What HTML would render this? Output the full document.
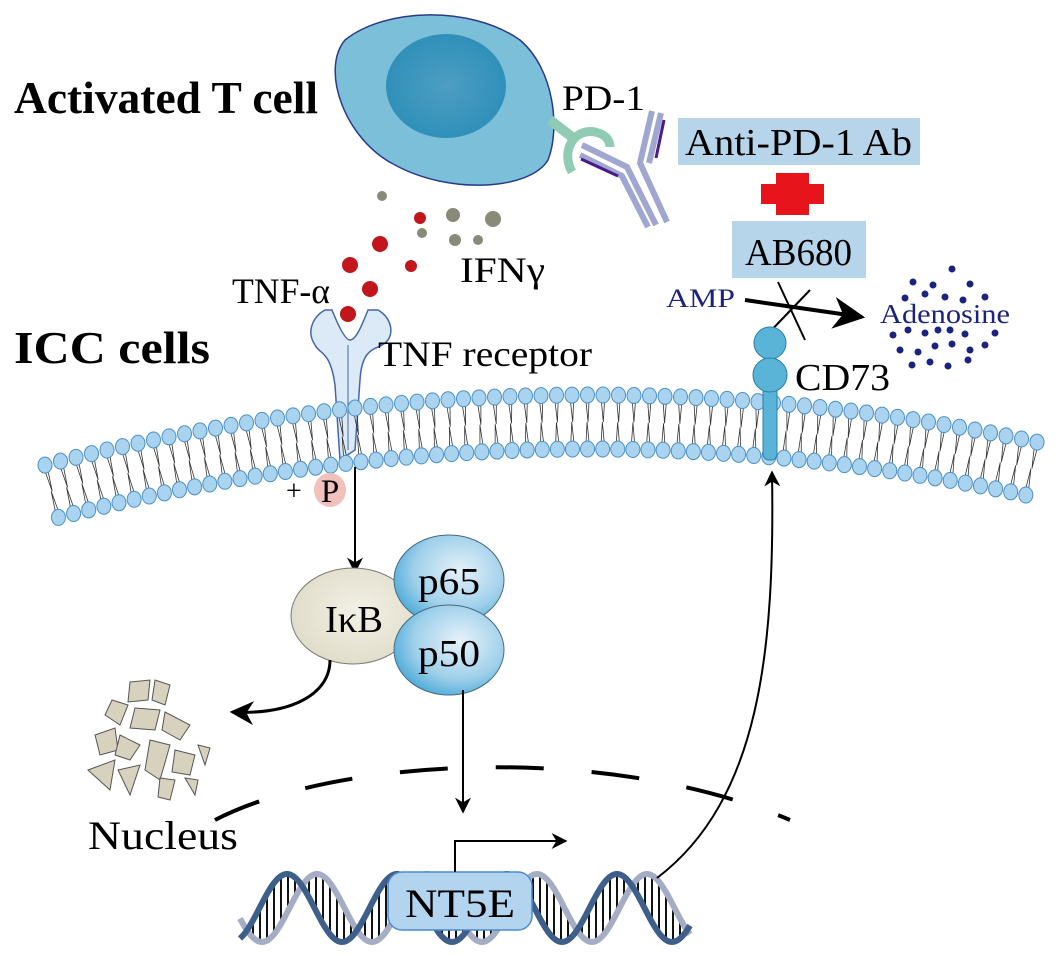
<!DOCTYPE html>
<html><head><meta charset="utf-8"><style>
html,body{margin:0;padding:0;background:#fff;}
svg{display:block;}
text{font-family:"Liberation Serif","Times New Roman",serif;}
</style></head><body>
<svg width="1063" height="956" viewBox="0 0 1063 956" xmlns="http://www.w3.org/2000/svg">
<defs>
<radialGradient id="bl" cx="0.6" cy="0.4" r="0.7"><stop offset="0" stop-color="#e6f2fa"/><stop offset="0.6" stop-color="#9fd0ea"/><stop offset="1" stop-color="#3ba3d4"/></radialGradient>
<radialGradient id="bg" cx="0.55" cy="0.45" r="0.7"><stop offset="0" stop-color="#f3f1e6"/><stop offset="1" stop-color="#dcd8c4"/></radialGradient>
<radialGradient id="nuc" cx="0.5" cy="0.5" r="0.6"><stop offset="0" stop-color="#4d9ec2"/><stop offset="1" stop-color="#2a8db8"/></radialGradient>
<marker id="ah" viewBox="0 0 10 10" refX="9" refY="5" markerWidth="8" markerHeight="8" orient="auto"><path d="M0,0 L10,5 L0,10 L3,5z" fill="#000"/></marker>
</defs>

<text x="14" y="113" font-size="46" font-weight="bold" textLength="304" lengthAdjust="spacingAndGlyphs">Activated T cell</text>
<text x="14" y="363" font-size="46" font-weight="bold" textLength="196" lengthAdjust="spacingAndGlyphs">ICC cells</text>

<path d="M345,40 C385,8 470,5 520,40 C555,70 560,130 548,160 C530,190 450,195 395,165 C345,140 320,70 345,40z" fill="#7bbfd8" stroke="#2a3a8a" stroke-width="1.5"/>
<ellipse cx="446" cy="86" rx="60" ry="52" fill="url(#nuc)"/>

<text x="562" y="110" font-size="36" textLength="83" lengthAdjust="spacingAndGlyphs">PD-1</text>
<path d="M550,120 L572,137" stroke="#8fccb3" stroke-width="10"/>
<path d="M572,172 C560,150 575,128 595,132 C605,134 610,140 610,147" stroke="#8fccb3" stroke-width="9" fill="none"/>
<g stroke="#9fa6d0" stroke-width="6" fill="none">
<path d="M582,145 L627,167 L656,225"/>
<path d="M580,155 L622,176 L648,227"/>
<path d="M652,111 L640,163 L667,222"/>
<path d="M661,113 L649,163"/>
</g>
<path d="M664,120 L656,158" stroke="#4b1a8a" stroke-width="3"/>
<path d="M581,159 L618,176" stroke="#4b1a8a" stroke-width="3"/>

<rect x="678" y="118" width="242" height="47" fill="#b7d5ea"/>
<text x="685" y="155" font-size="38" textLength="227" lengthAdjust="spacingAndGlyphs">Anti-PD-1 Ab</text>
<rect x="776" y="173" width="33" height="42" fill="#e8141c"/>
<rect x="761" y="184" width="63" height="20" fill="#e8141c"/>
<rect x="732" y="221" width="134" height="57" fill="#b7d5ea"/>
<text x="745" y="265" font-size="38" textLength="107" lengthAdjust="spacingAndGlyphs">AB680</text>

<text x="666" y="307" font-size="26" fill="#1a237e" textLength="69" lengthAdjust="spacingAndGlyphs">AMP</text>
<line x1="745" y1="300" x2="862" y2="317" stroke="#000" stroke-width="4" marker-end="url(#ah)"/>
<line x1="778" y1="282" x2="805" y2="340" stroke="#000" stroke-width="2"/>
<line x1="810" y1="290" x2="762" y2="340" stroke="#000" stroke-width="2"/>
<text x="880" y="323" font-size="27" fill="#1a237e" textLength="130" lengthAdjust="spacingAndGlyphs">Adenosine</text>
<g fill="#1a237e">
<circle cx="952" cy="269" r="3.5"/><circle cx="913" cy="282" r="3.5"/><circle cx="933" cy="285" r="3.5"/><circle cx="970" cy="284" r="3.5"/>
<circle cx="905" cy="298" r="3.5"/><circle cx="925" cy="294" r="3.5"/><circle cx="945" cy="297" r="3.5"/><circle cx="963" cy="300" r="3.5"/><circle cx="985" cy="297" r="3.5"/>
<circle cx="893" cy="335" r="3.5"/><circle cx="908" cy="330" r="3.5"/><circle cx="925" cy="333" r="3.5"/><circle cx="938" cy="330" r="3.5"/><circle cx="950" cy="330" r="3.5"/><circle cx="965" cy="334" r="3.5"/><circle cx="995" cy="333" r="3.5"/>
<circle cx="900" cy="350" r="3.5"/><circle cx="918" cy="352" r="3.5"/><circle cx="935" cy="346" r="3.5"/><circle cx="952" cy="344" r="3.5"/><circle cx="970" cy="350" r="3.5"/><circle cx="985" cy="345" r="3.5"/>
<circle cx="912" cy="365" r="3.5"/><circle cx="930" cy="362" r="3.5"/><circle cx="948" cy="366" r="3.5"/><circle cx="968" cy="360" r="3.5"/>
</g>

<g fill="#c0161c"><circle cx="420" cy="218" r="6"/><circle cx="380" cy="244" r="8"/><circle cx="350" cy="265" r="8"/><circle cx="411" cy="266" r="6"/><circle cx="370" cy="289" r="8"/><circle cx="348" cy="314" r="8"/></g>
<g fill="#8a8a78"><circle cx="382" cy="196" r="5"/><circle cx="453" cy="215" r="7"/><circle cx="493" cy="219" r="8"/><circle cx="422" cy="233" r="5"/><circle cx="455" cy="240" r="6"/><circle cx="478" cy="240" r="5"/></g>
<text x="232" y="303" font-size="36" textLength="98" lengthAdjust="spacingAndGlyphs">TNF-α</text>
<text x="460" y="282" font-size="36" textLength="85" lengthAdjust="spacingAndGlyphs">IFNγ</text>

<path d="M340,460 L335,385 C330,350 320,355 315,345 C305,330 315,315 325,310 L332,310 C338,325 345,340 350,340 C356,340 362,325 368,310 L378,310 C392,318 395,335 385,343 C378,350 362,345 360,380 L355,450 Z" fill="#dce9f6" stroke="#4466aa" stroke-width="1.5"/>
<line x1="348" y1="345" x2="348" y2="450" stroke="#4466aa" stroke-width="1"/>
<text x="378" y="366" font-size="36" textLength="214" lengthAdjust="spacingAndGlyphs">TNF receptor</text>

<g id="mem"></g>

<rect x="763" y="380" width="14" height="80" rx="6" fill="#5ab4d8" stroke="#2a7fa8"/>
<circle cx="770" cy="343" r="16" fill="#5ab4d8" stroke="#2a7fa8"/>
<circle cx="770" cy="375" r="17" fill="#5ab4d8" stroke="#2a7fa8"/>
<text x="795" y="390" font-size="38" textLength="95" lengthAdjust="spacingAndGlyphs">CD73</text>

<line x1="355" y1="467" x2="355" y2="572" stroke="#000" stroke-width="2" marker-end="url(#ah)"/>
<text x="286" y="500" font-size="28">+</text>
<ellipse cx="330" cy="490" rx="16" ry="17" fill="#f3c1bb"/>
<text x="330" y="502" font-size="33" text-anchor="middle">P</text>

<ellipse cx="353" cy="616" rx="62" ry="48" fill="url(#bg)" stroke="#7b7a70"/>
<text x="325" y="632" font-size="38" textLength="58" lengthAdjust="spacingAndGlyphs">IκB</text>
<ellipse cx="449" cy="580" rx="55" ry="45" fill="url(#bl)" stroke="#4a6a80"/>
<text x="418" y="594" font-size="38" textLength="62" lengthAdjust="spacingAndGlyphs">p65</text>
<ellipse cx="449" cy="650" rx="55" ry="45" fill="url(#bl)" stroke="#4a6a80"/>
<text x="418" y="666" font-size="38" textLength="62" lengthAdjust="spacingAndGlyphs">p50</text>

<path d="M330,660 C330,695 290,715 232,712" stroke="#000" stroke-width="3" fill="none" marker-end="url(#ah)"/>
<g fill="#d6d2bd" stroke="#555" stroke-width="1">
<polygon points="130,682 150,680 148,700 128,702"/><polygon points="155,680 170,685 165,705 152,700"/>
<polygon points="112,700 128,705 120,725 105,715"/><polygon points="135,708 160,710 155,730 130,728"/>
<polygon points="165,712 190,725 180,740 162,730"/><polygon points="95,735 115,728 118,750 100,755"/>
<polygon points="120,735 140,745 130,760 115,755"/><polygon points="150,740 170,745 160,780 145,770"/>
<polygon points="175,750 195,755 190,775 172,772"/><polygon points="198,745 210,748 205,765"/>
<polygon points="88,770 115,760 110,790"/><polygon points="118,770 140,765 130,795"/>
<polygon points="160,778 175,780 170,800 158,797"/><polygon points="185,778 198,780 195,795"/>
</g>

<line x1="463" y1="690" x2="463" y2="812" stroke="#000" stroke-width="2" marker-end="url(#ah)"/>
<path d="M215,820 C330,760 600,740 790,820" stroke="#000" stroke-width="4" fill="none" stroke-dasharray="48,48"/>
<text x="88" y="849" font-size="40" textLength="150" lengthAdjust="spacingAndGlyphs">Nucleus</text>

<g id="dna"></g>
<rect x="388" y="872" width="144" height="58" rx="14" fill="#b2d4ee" stroke="#4c8acb" stroke-width="1.5"/>
<text x="405" y="917" font-size="40" textLength="110" lengthAdjust="spacingAndGlyphs">NT5E</text>
<path d="M455,872 L455,841 L566,841" stroke="#000" stroke-width="2" fill="none" marker-end="url(#ah)"/>
<path d="M657,878 C760,800 775,650 772,472" stroke="#000" stroke-width="2" fill="none" marker-end="url(#ah)"/>
</svg>
<script>
(function(){
var g=document.getElementById('mem');
function y(x){return 395+0.000236*(x-590)*(x-590);}
var s='';
for(var x=45;x<=1042;x+=15.5){
 var d=2*0.000236*(x-590);var n=Math.sqrt(1+d*d);
 var tx=1/n,ty=d/n; var Nx=-ty,Ny=tx;
 var ox=x,oy=y(x);var ix=ox+Nx*54, iy=oy+Ny*54;
 s+='<path d="M'+(ox+Nx*7-1.5)+','+(oy+Ny*7)+' l'+(Nx*20+2)+','+(Ny*20)+' M'+(ox+Nx*7+1.5)+','+(oy+Ny*7)+' l'+(Nx*20-1)+','+(Ny*20)+'" stroke="#333" stroke-width="0.8"/>';
 s+='<path d="M'+(ix-Nx*7-1.5)+','+(iy-Ny*7)+' l'+(-Nx*20+1)+','+(-Ny*20)+' M'+(ix-Nx*7+1.5)+','+(iy-Ny*7)+' l'+(-Nx*20-2)+','+(-Ny*20)+'" stroke="#333" stroke-width="0.8"/>';
 s+='<ellipse cx="'+ox+'" cy="'+oy+'" rx="7" ry="8" fill="#a9d3ef" stroke="#4a90c8" stroke-width="1"/>';
 s+='<ellipse cx="'+ix+'" cy="'+iy+'" rx="7" ry="8" fill="#a9d3ef" stroke="#4a90c8" stroke-width="1"/>';
}
g.innerHTML=s;
var d='';var x0=240,x1=690,P=110,top=874,bot=942,mid=(top+bot)/2,A=(bot-top)/2;
function f(x,c){return mid-A*Math.cos(2*Math.PI*(x-c)/P);}
for(var x=x0+6;x<x1-4;x+=7){
 var a=f(x,287),b=f(x,317);
 if(Math.abs(a-b)>8) d+='<line x1="'+x+'" y1="'+a+'" x2="'+x+'" y2="'+b+'" stroke="#111" stroke-width="2"/>';
}
function path(c){var p='M'+x0+','+f(x0,c);for(var x=x0+2;x<=x1;x+=2)p+=' L'+x+','+f(x,c);return p;}
d+='<path d="'+path(317)+'" stroke="#a5adc4" stroke-width="6" fill="none"/>';
d+='<path d="'+path(287)+'" stroke="#3d5f8a" stroke-width="6" fill="none"/>';
document.getElementById('dna').innerHTML=d;
})();
</script>
</body></html>
